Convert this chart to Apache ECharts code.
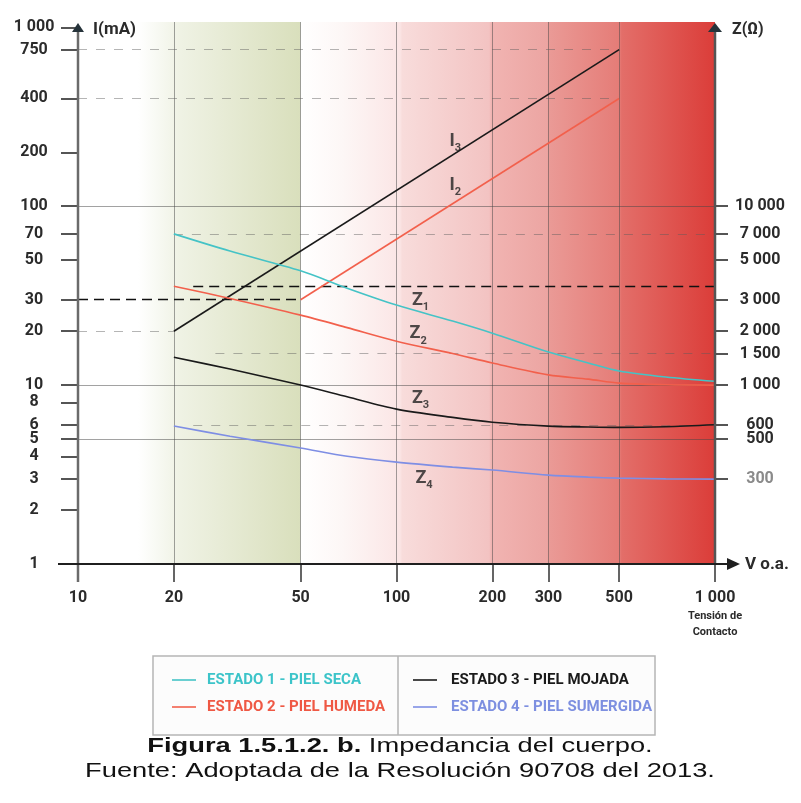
<!DOCTYPE html>
<html>
<head>
<meta charset="utf-8">
<script src="https://cdn.jsdelivr.net/npm/echarts@6/dist/echarts.min.js"></script>
<style>
html, body { margin: 0; padding: 0; background: #fff; }
#main { width: 801px; height: 803px; }
</style>
</head>
<body>
<div id="main"></div>
<script>
var chart = echarts.init(document.getElementById('main'));

// tick labels
var xTicks = [10, 20, 50, 100, 200, 300, 500, 1000];
var iTicks = [1, 2, 3, 4, 5, 6, 8, 10, 20, 30, 50, 70, 100, 200, 400, 750, 1000];
var zTicks = [300, 500, 600, 1000, 1500, 2000, 3000, 5000, 7000, 10000];

// corriente (mA) vs tension (V) - rectas en log-log
var voltI3 = [20, 500];
var curI3 = [20, 750];
var voltI2 = [50, 500];
var curI2 = [30, 400];

// impedancia (ohm) vs tension (V)
var voltZ = [20, 30, 50, 70, 100, 150, 200, 300, 400, 500, 700, 1000];
var z1 = [7000, 5610, 4350, 3480, 2800, 2280, 1950, 1530, 1330, 1200, 1110, 1050];
var z2 = [3570, 3050, 2460, 2095, 1760, 1500, 1330, 1140, 1080, 1025, 1005, 1000];
var z3 = [1430, 1230, 1000, 860, 734, 660, 620, 590, 583, 580, 585, 600];
var z4 = [590, 518, 445, 400, 371, 348, 335, 314, 306, 302, 299, 298];

var names = ['ESTADO 1 - PIEL SECA', 'ESTADO 2 - PIEL HUMEDA', 'ESTADO 3 - PIEL MOJADA', 'ESTADO 4 - PIEL SUMERGIDA'];
var colors = ['#45c3c6', '#f2604c', '#1a1a1a', '#7e8ee4'];
var textColors = ['#3cc4c9', '#ef5844', '#1a1a1a', '#7d8fe0'];

// curve tags: [letter, index, volts, mA]
var curveTags = [
  ['I', '3', 153, 231],
  ['I', '2', 153, 131],
  ['Z', '1', 119, 29.8],
  ['Z', '2', 117, 19.3],
  ['Z', '3', 119, 8.46],
  ['Z', '4', 122, 3.02]
];

var L = 78, R = 715, T = 22, B = 564;
var narrow = "Roboto, 'DejaVu Sans Condensed', sans-serif";
var dark = '#2b2b2b';

function pairs(xs, ys) {
  return xs.map(function (x, i) { return [x, ys[i]]; });
}
function fmt(v) {
  return String(v).replace(/\B(?=(\d{3})+(?!\d))/g, ' ');
}

var gridGray = 'rgba(70,70,70,0.5)';
var dashGray = 'rgba(90,90,90,0.45)';

var bgSeries = {
  type: 'line', data: [], z: 0, silent: true,
  markArea: {
    silent: true,
    data: [
      [{ xAxis: 10, itemStyle: { color: new echarts.graphic.LinearGradient(0, 0, 1, 0, [
        { offset: 0, color: '#ffffff' }, { offset: 0.27, color: '#ffffff' },
        { offset: 0.46, color: '#eff2e4' }, { offset: 1, color: '#d9dfbc' }]) } },
       { xAxis: 50 }],
      [{ xAxis: 50, itemStyle: { color: new echarts.graphic.LinearGradient(0, 0, 1, 0, [
        { offset: 0, color: '#ffffff' }, { offset: 0.1, color: '#fdf7f6' },
        { offset: 0.24, color: '#fbe5e5' }, { offset: 0.245, color: '#f8dcdb' },
        { offset: 0.455, color: '#f3c3c2' }, { offset: 0.46, color: '#f1b4b2' },
        { offset: 0.595, color: '#eca5a2' }, { offset: 0.6, color: '#ea9a96' },
        { offset: 0.77, color: '#e57c77' }, { offset: 0.775, color: '#e36e69' },
        { offset: 1, color: '#db3d39' }]) } },
       { xAxis: 1000 }]
    ]
  },
  markLine: {
    silent: true, symbol: 'none', label: { show: false },
    lineStyle: { color: gridGray, width: 1, type: 'solid' },
    data: [
      { xAxis: 20 }, { xAxis: 50 }, { xAxis: 100 }, { xAxis: 200 }, { xAxis: 300 }, { xAxis: 500 },
      { yAxis: 100 }, { yAxis: 10 }, { yAxis: 5 },
      [{ coord: [10, 750], lineStyle: { color: dashGray, type: [9, 9] } }, { coord: [500, 750] }],
      [{ coord: [10, 400], lineStyle: { color: dashGray, type: [9, 9] } }, { coord: [500, 400] }],
      [{ coord: [20, 70], lineStyle: { color: dashGray, type: [9, 9] } }, { coord: [1000, 70] }],
      [{ coord: [10, 20], lineStyle: { color: dashGray, type: [9, 9] } }, { coord: [20, 20] }],
      [{ coord: [27, 15], lineStyle: { color: dashGray, type: [9, 9] } }, { coord: [1000, 15] }],
      [{ coord: [23, 6], lineStyle: { color: dashGray, type: [9, 9] } }, { coord: [1000, 6] }],
      [{ coord: [10, 30], lineStyle: { color: '#111', width: 1.3, type: [10, 6] } }, { coord: [50, 30] }],
      [{ coord: [23, 35.7], lineStyle: { color: '#111', width: 1.3, type: [10, 6] } }, { coord: [1000, 35.7] }]
    ]
  }
};

function curve(name, color, data, yIdx, smooth) {
  return {
    name: name, type: 'line', data: data, yAxisIndex: yIdx,
    symbol: 'none', smooth: smooth ? 0.3 : false,
    lineStyle: { color: color, width: 1.6 }, itemStyle: { color: color }, z: 5
  };
}

var tagSeries = {
  type: 'scatter', symbolSize: 0, z: 6, silent: true,
  data: curveTags.map(function (t) { return { value: [t[2], t[3]], tag: t }; }),
  label: {
    show: true, position: 'inside',
    formatter: function (p) { return '{b|' + p.data.tag[0] + '}{s|' + p.data.tag[1] + '}'; },
    rich: {
      b: { fontFamily: narrow, fontWeight: 'bold', fontSize: 18, color: '#222', lineHeight: 26 },
      s: { fontFamily: narrow, fontWeight: 'bold', fontSize: 11, color: '#222', lineHeight: 26, verticalAlign: 'bottom' }
    }
  }
};

var option = {
  animation: false,
  backgroundColor: '#ffffff',
  grid: { left: L, right: 801 - R, top: T, bottom: 803 - B },
  xAxis: {
    type: 'log', logBase: 10, min: 10, max: 1000,
    axisLine: { show: false },
    splitLine: { show: false }, minorTick: { show: false },
    axisTick: { show: true, customValues: xTicks, length: 18, lineStyle: { color: '#333', width: 1.5 } },
    axisLabel: {
      customValues: xTicks, margin: 24, fontFamily: narrow, fontWeight: 'bold', fontSize: 16,
      lineHeight: 20, color: dark,
      formatter: function (v) {
        if (v === 1000) return '{n|1 000}\n{s|Tensión de}\n{s|Contacto}';
        return fmt(v);
      },
      rich: {
        n: { fontFamily: narrow, fontWeight: 'bold', fontSize: 16, lineHeight: 20, color: dark },
        s: { fontFamily: narrow, fontWeight: 'bold', fontSize: 11, lineHeight: 16, color: dark }
      }
    }
  },
  yAxis: [{
    type: 'log', logBase: 10, min: 1, max: 1070, position: 'left',
    axisLine: { show: false }, splitLine: { show: false }, minorTick: { show: false },
    axisTick: { show: true, customValues: iTicks, length: 17, lineStyle: { color: '#555', width: 2 } },
    axisLabel: {
      customValues: iTicks, margin: 44, align: 'center', fontFamily: narrow, fontWeight: 'bold',
      fontSize: 16, color: dark, formatter: fmt
    }
  }, {
    type: 'log', logBase: 10, min: 100, max: 107000, position: 'right',
    axisLine: { show: false }, splitLine: { show: false }, minorTick: { show: false },
    axisTick: { show: true, customValues: zTicks, length: 13, lineStyle: { color: '#555', width: 2 } },
    axisLabel: {
      customValues: zTicks, margin: 45, align: 'center', fontFamily: narrow, fontWeight: 'bold',
      fontSize: 16, color: dark,
      formatter: function (v) { return v === 300 ? '{g|300}' : fmt(v); },
      rich: { g: { fontFamily: narrow, fontWeight: 'bold', fontSize: 16, color: '#8a8a8a' } }
    }
  }],
  legend: [{
    data: [{ name: names[0], textStyle: { color: textColors[0] } }, { name: names[1], textStyle: { color: textColors[1] } }],
    orient: 'vertical', left: 167, top: 667, itemWidth: 24, itemHeight: 1.6, itemGap: 11, icon: 'rect',
    selectedMode: false,
    textStyle: { fontFamily: narrow, fontWeight: 'bold', fontSize: 15, lineHeight: 16, padding: [0, 0, 0, 6] }
  }, {
    data: [{ name: names[2], textStyle: { color: textColors[2] } }, { name: names[3], textStyle: { color: textColors[3] } }],
    orient: 'vertical', left: 408, top: 667, itemWidth: 24, itemHeight: 1.6, itemGap: 11, icon: 'rect',
    selectedMode: false,
    textStyle: { fontFamily: narrow, fontWeight: 'bold', fontSize: 15, lineHeight: 16, padding: [0, 0, 0, 9] }
  }],
  series: [
    bgSeries,
    curve(names[2], colors[2], pairs(voltI3, curI3), 0, false),
    curve(names[1], colors[1], pairs(voltI2, curI2), 0, false),
    curve(names[0], colors[0], pairs(voltZ, z1), 1, true),
    curve(names[1], colors[1], pairs(voltZ, z2), 1, true),
    curve(names[2], colors[2], pairs(voltZ, z3), 1, true),
    curve(names[3], colors[3], pairs(voltZ, z4), 1, true),
    tagSeries
  ],
  graphic: [
    // legend frame
    { type: 'rect', z: -1, shape: { x: 153, y: 656, width: 502, height: 79 },
      style: { fill: '#fcfcfc', stroke: '#b5b5b5', lineWidth: 1.5 } },
    { type: 'line', shape: { x1: 398, y1: 656, x2: 398, y2: 735 }, style: { stroke: '#b5b5b5', lineWidth: 1.5 } },
    // axis lines
    { type: 'line', z: 100, shape: { x1: L, y1: B + 18, x2: L, y2: T + 10 }, style: { stroke: '#6b6b6b', lineWidth: 2.5 } },
    { type: 'polygon', z: 100, shape: { points: [[L - 6, T + 10], [L + 6, T + 10], [L, T + 1]] }, style: { fill: '#26333a' } },
    { type: 'line', z: 100, shape: { x1: R, y1: B, x2: R, y2: T + 10 }, style: { stroke: '#555', lineWidth: 2.5 } },
    { type: 'polygon', z: 100, shape: { points: [[R - 7, T + 10], [R + 7, T + 10], [R, T + 1]] }, style: { fill: '#26333a' } },
    { type: 'line', z: 100, shape: { x1: L - 20, y1: B, x2: R + 13, y2: B }, style: { stroke: '#1f1f1f', lineWidth: 2 } },
    { type: 'polygon', z: 100, shape: { points: [[R + 12, B - 6], [R + 12, B + 6], [R + 25, B]] }, style: { fill: '#1f1f1f' } },
    // axis names
    { type: 'text', z: 100, x: 93, y: 30, style: { text: 'I(mA)', fontFamily: narrow, fontWeight: 'bold', fontSize: 17,
      fill: dark, textVerticalAlign: 'middle' } },
    { type: 'text', z: 100, x: 732, y: 30, style: { text: 'Z(Ω)', fontFamily: narrow, fontWeight: 'bold', fontSize: 16,
      fill: dark, textVerticalAlign: 'middle' } },
    { type: 'text', z: 100, x: 745, y: 565, style: { text: 'V o.a.', fontFamily: narrow, fontWeight: 'bold', fontSize: 17,
      fill: dark, textVerticalAlign: 'middle' } },
    // caption
    { type: 'text', z: 100, x: 400, y: 746, scaleX: 1.3, style: {
      text: '{b|Figura 1.5.1.2. b.} Impedancia del cuerpo.', textAlign: 'center', textVerticalAlign: 'middle',
      fontFamily: "'Liberation Sans', Arial, sans-serif", fontSize: 21, fill: '#111',
      rich: { b: { fontFamily: "'Liberation Sans', Arial, sans-serif", fontSize: 21, fontWeight: 'bold', fill: '#111' } } } },
    { type: 'text', z: 100, x: 400, y: 771, scaleX: 1.3, style: {
      text: 'Fuente: Adoptada de la Resolución 90708 del 2013.', textAlign: 'center', textVerticalAlign: 'middle',
      fontFamily: "'Liberation Sans', Arial, sans-serif", fontSize: 21, fill: '#111' } }
  ]
};

chart.setOption(option);
</script>
</body>
</html>
